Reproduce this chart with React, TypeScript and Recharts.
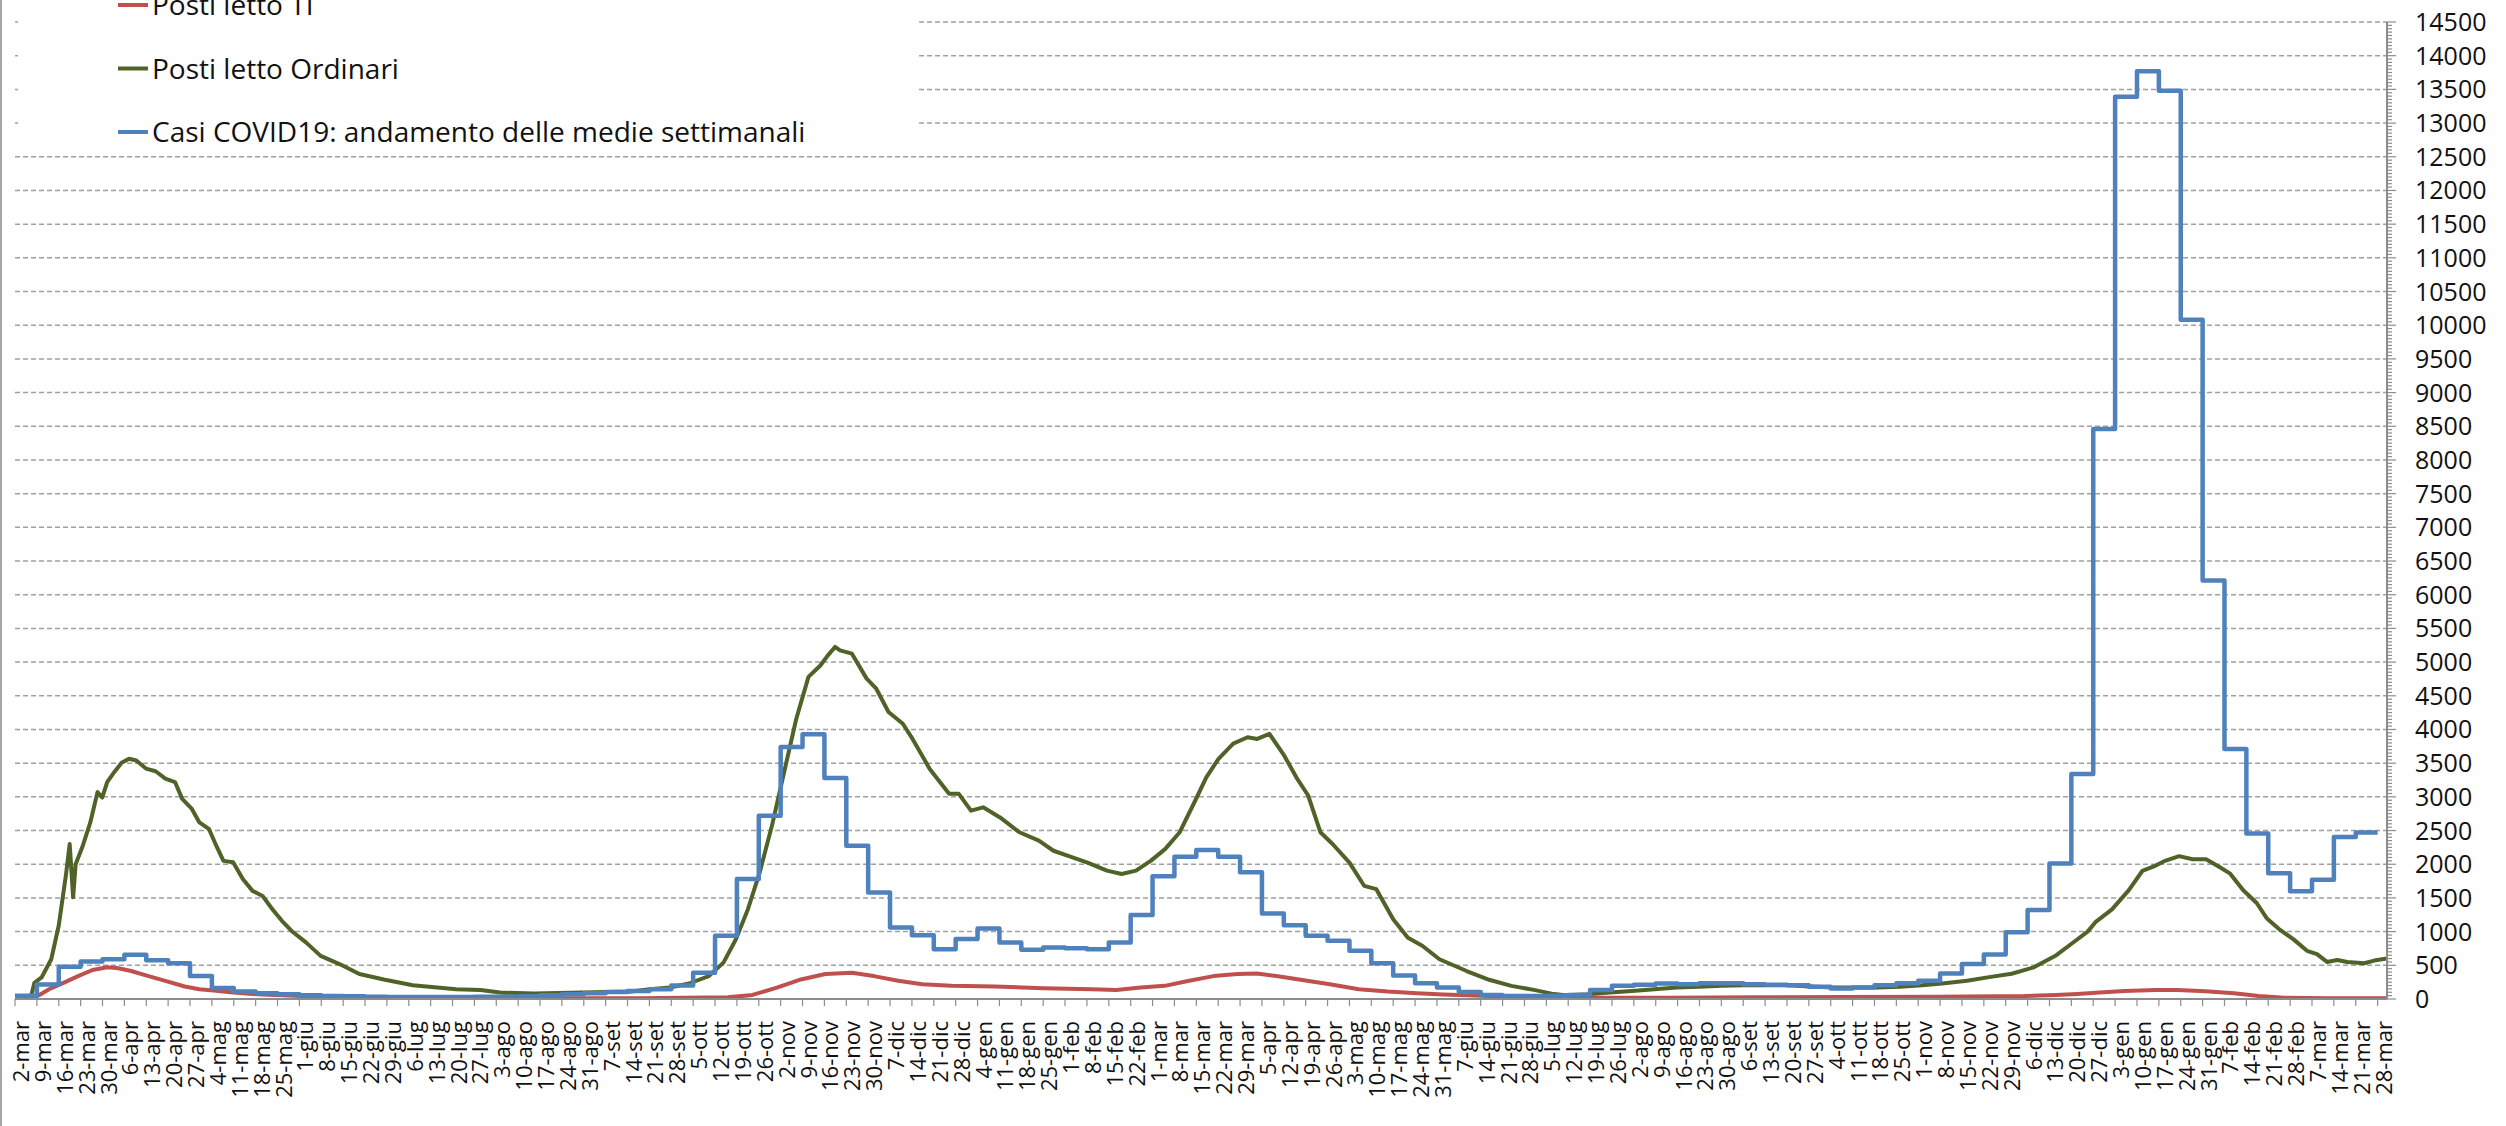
import React from 'react';
import { LineChart, Line, XAxis, YAxis, CartesianGrid, Legend } from 'recharts';

// Weekly tick labels (Monday of each week), 2 Mar 2020 -> 28 Mar 2022
const weekLabels: string[] = [
  '2-mar','9-mar','16-mar','23-mar','30-mar','6-apr','13-apr','20-apr','27-apr','4-mag','11-mag','18-mag','25-mag',
  '1-giu','8-giu','15-giu','22-giu','29-giu','6-lug','13-lug','20-lug','27-lug','3-ago','10-ago','17-ago','24-ago','31-ago',
  '7-set','14-set','21-set','28-set','5-ott','12-ott','19-ott','26-ott','2-nov','9-nov','16-nov','23-nov','30-nov',
  '7-dic','14-dic','21-dic','28-dic','4-gen','11-gen','18-gen','25-gen','1-feb','8-feb','15-feb','22-feb',
  '1-mar','8-mar','15-mar','22-mar','29-mar','5-apr','12-apr','19-apr','26-apr','3-mag','10-mag','17-mag','24-mag','31-mag',
  '7-giu','14-giu','21-giu','28-giu','5-lug','12-lug','19-lug','26-lug','2-ago','9-ago','16-ago','23-ago','30-ago',
  '6-set','13-set','20-set','27-set','4-ott','11-ott','18-ott','25-ott','1-nov','8-nov','15-nov','22-nov','29-nov',
  '6-dic','13-dic','20-dic','27-dic','3-gen','10-gen','17-gen','24-gen','31-gen','7-feb','14-feb','21-feb','28-feb',
  '7-mar','14-mar','21-mar','28-mar'
];

// Casi COVID19: weekly averages (one value per week, starting on each tick)
const casiWeekly: number[] = [
  50, 215, 480, 555, 590, 655, 575, 530, 340, 165, 110, 85, 70, 55, 45, 40, 35, 30, 30, 30,
  30, 35, 35, 40, 55, 70, 85, 105, 120, 145, 200, 390, 940, 1780, 2720, 3740, 3930, 3280, 2275, 1580,
  1060, 945, 740, 890, 1045, 840, 730, 765, 755, 740, 840, 1245, 1820, 2110, 2210, 2110, 1880, 1270, 1095, 940,
  865, 715, 530, 350, 235, 170, 105, 60, 45, 45, 50, 60, 135, 195, 210, 230, 220, 235, 235, 220,
  210, 205, 180, 155, 170, 205, 235, 270, 380, 520, 660, 990, 1320, 2010, 3340, 8460, 13390, 13770, 13480, 10080,
  6210, 3710, 2455, 1865, 1600, 1770, 2405, 2470
];
const casiLastDay = 756;

// Posti letto Ordinari: [day since 2-mar-2020, value]
const postiOrdinari: [number, number][] = [
  [0,15],[5,15],[6.2,240],[8.5,320],[11.6,590],[14,1090],[16.3,1840],[17.5,2300],[18.6,1510],[19.4,2000],[21.7,2275],
  [24.1,2620],[26.4,3070],[27.9,2990],[29.5,3220],[31.8,3370],[34.1,3505],[36.5,3565],[38.8,3540],[41.9,3420],[45,3380],
  [48.1,3270],[51.2,3220],[53.5,2970],[56.6,2820],[59,2620],[62.1,2520],[64.4,2275],[66.7,2050],[69.8,2030],[72.9,1780],
  [76,1605],[79.2,1530],[82.3,1335],[85.4,1160],[88.5,1010],[93.1,840],[97.8,640],[104,515],[110.2,370],[118,290],
  [127.3,205],[141.2,145],[149,135],[155.2,95],[166,80],[181.6,95],[197.1,110],[203.3,145],[209.5,170],[215.7,230],
  [222,340],[226.7,540],[230.6,880],[234.5,1330],[238.3,1880],[242.2,2570],[246.1,3365],[250,4160],[253.9,4780],
  [257.7,4950],[260.1,5100],[262.4,5225],[264,5175],[267.8,5125],[272.5,4755],[275.6,4605],[279.5,4260],[284.1,4085],
  [287.2,3860],[292.7,3415],[298.9,3045],[302,3045],[305.9,2795],[309.8,2845],[315.2,2695],[321.4,2475],[327.6,2350],
  [332.3,2200],[337,2125],[343.2,2025],[349.4,1905],[354.1,1855],[358.7,1905],[363.4,2050],[368,2225],[372.7,2475],
  [377.4,2920],[381.2,3290],[385.1,3565],[389.8,3790],[394.4,3885],[397.5,3860],[401.4,3935],[406.1,3615],[410,3290],
  [413.8,3020],[417.7,2475],[421.6,2300],[427,2025],[431.7,1680],[435.6,1630],[441,1185],[445.7,910],[450.3,790],
  [455.8,590],[464.5,415],[471.7,285],[478.8,195],[486,135],[491.7,80],[496,55],[503.1,70],[510.3,95],[517.4,120],
  [524.6,145],[531.7,170],[538.8,180],[546,195],[553.1,205],[560.3,205],[567.4,205],[574.5,185],[581.7,170],[588.8,170],
  [596,170],[603.1,180],[610.3,205],[617.4,235],[624.6,270],[631.7,325],[638.9,375],[646,470],[653.2,650],[658.9,850],
  [663.2,1000],[665.7,1140],[671,1330],[676.4,1615],[680.7,1900],[685,1980],[688.2,2055],[692.5,2120],[696.8,2075],
  [701.1,2075],[705.4,1960],[708.7,1865],[713,1615],[717.3,1425],[720.5,1200],[724.8,1025],[729.1,885],[733.4,715],
  [736.6,665],[739.8,550],[743.1,580],[746.3,550],[751.7,530],[754.9,570],[759,600]
];

// Posti letto TI: [day since 2-mar-2020, value]
const postiTI: [number, number][] = [
  [0,0],[5,0],[7.8,60],[10.9,145],[15.5,240],[20.2,340],[24.8,430],[29.5,470],[32.6,460],[37.2,415],[41.9,350],
  [48.1,270],[54.3,185],[59,145],[63.6,125],[69.8,95],[79.2,65],[91.6,45],[104,30],[120,18],[150,10],[200,10],
  [228,25],[236,60],[243.8,170],[251.5,290],[259.3,370],[267.8,390],[274.8,340],[282.6,270],[290.3,220],[299.6,195],
  [313.6,185],[329.1,160],[344.6,145],[352.4,135],[360.2,170],[367.9,195],[375.7,270],[383.5,340],[391.2,370],
  [397.4,380],[403.6,340],[411.4,285],[420.7,220],[430,145],[439.3,110],[448.6,85],[457,65],[471.7,45],[486,30],
  [500,20],[529,20],[557,25],[586,30],[615,35],[643,45],[653,60],[660,75],[667,95],[675,120],[685,135],[692,135],
  [701,115],[710,85],[718,45],[726,20],[740,12],[759,10]
];

const Y_MAX = 14500;
const X_MAX = 759;

const RED = '#C0504D';
const GREEN = '#4F6228';
const BLUE = '#4F81BD';
const AXIS = '#8c8c8c';
const FONT = '"Open Sans", "Noto Sans", sans-serif';

const legendItems = [
  { name: 'Posti letto TI', color: RED },
  { name: 'Posti letto Ordinari', color: GREEN },
  { name: 'Casi COVID19: andamento delle medie settimanali', color: BLUE },
];

const tiData = postiTI.map(([day, value]) => ({ day, value }));
const ordData = postiOrdinari.map(([day, value]) => ({ day, value }));
const casiData = [
  ...casiWeekly.map((value, i) => ({ day: i * 7, value })),
  { day: casiLastDay, value: casiWeekly[casiWeekly.length - 1] },
];

const weekTicks = weekLabels.map((_, i) => i * 7);
const yMinorTicks: number[] = [];
for (let v = 0; v <= Y_MAX; v += 50) yMinorTicks.push(v);
const gridValues: number[] = [];
for (let v = 500; v <= Y_MAX; v += 500) gridValues.push(v);

const XTick = (props: any) => {
  const { x, y, payload } = props;
  const label = weekLabels[Math.round(payload.value / 7)];
  return (
    <text
      x={x}
      y={y}
      dy={14}
      transform={`rotate(-90, ${x}, ${y})`}
      textAnchor="end"
      fontFamily={FONT}
      fontSize={22}
      fill="#111"
    >
      {label}
    </text>
  );
};

const YTick = (props: any) => {
  const { x, y, payload } = props;
  const v = payload.value;
  const major = v % 500 === 0;
  return (
    <g>
      <line x1={x} x2={x + (major ? 9 : 5)} y1={y} y2={y} stroke={AXIS} strokeWidth={1.2} />
      {major && (
        <text x={x + 28} y={y} dy="0.36em" textAnchor="start" fontFamily={FONT} fontSize={25} fill="#111">
          {v}
        </text>
      )}
    </g>
  );
};

const LegendBox = () => (
  <svg width={901} height={145} style={{ display: 'block' }}>
    {legendItems.map((it, i) => {
      const cy = 5 + i * 63.5;
      return (
        <g key={it.name}>
          <line x1={100} x2={130} y1={cy} y2={cy} stroke={it.color} strokeWidth={4} />
          <text x={134} y={cy} dy="0.36em" fontFamily={FONT} fontSize={28} fill="#111">
            {it.name}
          </text>
        </g>
      );
    })}
  </svg>
);

export default function App() {
  return (
    <div style={{ position: 'absolute', left: 0, top: 0, width: 2506, height: 1126, background: '#fff' }}>
      <div style={{ position: 'absolute', left: 0, top: 0, width: 2, height: 1126, background: '#a6a6a6' }} />
      <LineChart width={2506} height={1126} margin={{ top: 22, right: 0, left: 15, bottom: 0 }}>
        <CartesianGrid
          vertical={false}
          horizontalValues={gridValues}
          stroke="#a0a0a0"
          strokeWidth={1.5}
          strokeDasharray="5 3"
        />
        <XAxis
          type="number"
          dataKey="day"
          domain={[0, X_MAX]}
          ticks={weekTicks}
          interval={0}
          height={127}
          tickSize={7}
          tickMargin={15}
          tickLine={{ stroke: AXIS, strokeWidth: 1.2 }}
          axisLine={{ stroke: AXIS, strokeWidth: 2 }}
          tick={<XTick />}
          allowDataOverflow
        />
        <YAxis
          orientation="right"
          type="number"
          domain={[0, Y_MAX]}
          ticks={yMinorTicks}
          interval={0}
          width={119}
          tickSize={0}
          tickMargin={0}
          tickLine={false}
          axisLine={{ stroke: AXIS, strokeWidth: 2 }}
          tick={<YTick />}
          allowDataOverflow
        />
        <Legend
          layout="vertical"
          align="center"
          verticalAlign="middle"
          wrapperStyle={{ position: 'absolute', left: 18, top: 0, width: 901, height: 145, background: '#fff' }}
          content={() => <LegendBox />}
        />
        <Line data={tiData} dataKey="value" type="linear" stroke={RED} strokeWidth={4} dot={false} isAnimationActive={false} strokeLinejoin="round" />
        <Line data={ordData} dataKey="value" type="linear" stroke={GREEN} strokeWidth={4} dot={false} isAnimationActive={false} strokeLinejoin="round" />
        <Line data={casiData} dataKey="value" type="stepAfter" stroke={BLUE} strokeWidth={4.5} dot={false} isAnimationActive={false} strokeLinejoin="round" />
      </LineChart>
    </div>
  );
}
